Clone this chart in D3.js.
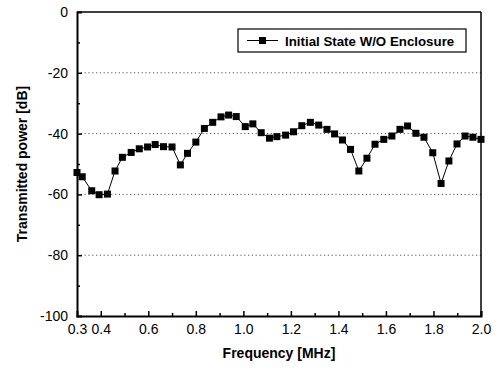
<!DOCTYPE html>
<html>
<head>
<meta charset="utf-8">
<script src="https://cdn.jsdelivr.net/npm/d3@7"></script>
<style>
  body { margin: 0; background: #fff; }
  svg { display: block; font-family: "Liberation Sans", Arial, sans-serif; }
</style>
</head>
<body>
<svg id="chart" width="500" height="370"></svg>
<script>
// data
var freq = [0.30, 0.322, 0.362, 0.393, 0.428, 0.46, 0.491, 0.528, 0.562, 0.597,
            0.629, 0.664, 0.70, 0.735, 0.765, 0.80, 0.836, 0.871, 0.906, 0.938,
            0.97, 1.008, 1.04, 1.075, 1.11, 1.141, 1.178, 1.211, 1.246, 1.282,
            1.317, 1.352, 1.384, 1.417, 1.451, 1.486, 1.52, 1.554, 1.591, 1.625,
            1.659, 1.691, 1.726, 1.76, 1.797, 1.832, 1.865, 1.899, 1.933, 1.966, 2.0];
var power = [-52.8, -54.2, -58.8, -60.1, -59.9, -52.3, -47.8, -46.2, -45, -44.4,
             -43.6, -44.3, -44.4, -50.3, -46.5, -42.8, -38.3, -36.3, -34.5, -33.9,
             -34.4, -37.7, -36.8, -39.7, -41.5, -41, -40.5, -39.4, -37.4, -36.3,
             -37.2, -38.6, -40.1, -42.1, -45.2, -52.3, -48.1, -43.5, -41.9, -40.8,
             -38.6, -37.5, -39.9, -41.2, -46.3, -56.4, -49, -43.4, -40.8, -41.2, -41.9];
var xTicks = [0.3, 0.4, 0.6, 0.8, 1.0, 1.2, 1.4, 1.6, 1.8, 2.0];
var xMinor = [0.5, 0.7, 0.9, 1.1, 1.3, 1.5, 1.7, 1.9];
var yTicks = [0, -20, -40, -60, -80, -100];
var yMinor = [-10, -30, -50, -70, -90];
var gridVals = [-20, -40, -60, -80];
var seriesName = "Initial State W/O Enclosure";

var svg = d3.select("#chart");
var margin = {top: 12, right: 19, bottom: 54, left: 77};
var width = 500 - margin.left - margin.right;
var height = 370 - margin.top - margin.bottom;

var g = svg.append("g")
    .attr("transform", "translate(" + margin.left + "," + margin.top + ")");

var x = d3.scaleLinear().domain([0.3, 2.0]).range([0, width]);
var y = d3.scaleLinear().domain([-100, 0]).range([height, 0]);

// dotted grid
g.selectAll(".grid")
    .data(gridVals)
    .enter().append("line")
    .attr("x1", 0).attr("x2", width)
    .attr("y1", function(d) { return y(d); })
    .attr("y2", function(d) { return y(d); })
    .attr("stroke", "#555")
    .attr("stroke-width", 1)
    .attr("stroke-dasharray", "1.2,2.6");

// frame top / right
g.append("line").attr("x1", 0).attr("x2", width).attr("y1", 0).attr("y2", 0)
    .attr("stroke", "#000").attr("stroke-width", 1.5);
g.append("line").attr("x1", width).attr("x2", width).attr("y1", 0).attr("y2", height)
    .attr("stroke", "#000").attr("stroke-width", 1.5);

// x axis, ticks inward
var xAxis = g.append("g")
    .attr("transform", "translate(0," + height + ")")
    .call(d3.axisBottom(x).tickValues(xTicks).tickSize(-5).tickPadding(8)
        .tickFormat(function(d) { return d.toFixed(1); }));
xAxis.selectAll(".tick").filter(function(d) { return d === 0.3; }).select("line").remove();
xAxis.selectAll("text").attr("fill", "#000").style("font-size", "14px");
xAxis.select(".domain").attr("stroke-width", 2);
xAxis.selectAll(".tick line").attr("stroke-width", 1.5);

g.append("g")
    .attr("transform", "translate(0," + height + ")")
    .call(d3.axisBottom(x).tickValues(xMinor).tickSize(-3).tickFormat(""))
    .call(function(s) { s.select(".domain").remove(); })
    .selectAll("line").attr("stroke-width", 1.5);

// y axis, ticks inward
var yAxis = g.append("g")
    .call(d3.axisLeft(y).tickValues(yTicks).tickSize(-5).tickPadding(9)
        .tickFormat(function(d) { return String(d); }));
yAxis.selectAll(".tick").filter(function(d) { return d === 0 || d === -100; }).select("line").remove();
yAxis.selectAll("text").attr("fill", "#000").style("font-size", "14px");
yAxis.select(".domain").attr("stroke-width", 2);
yAxis.selectAll(".tick line").attr("stroke-width", 1.5);

g.append("g")
    .call(d3.axisLeft(y).tickValues(yMinor).tickSize(-3).tickFormat(""))
    .call(function(s) { s.select(".domain").remove(); })
    .selectAll("line").attr("stroke-width", 1.5);

// series
var pts = freq.map(function(f, i) { return [f, power[i]]; });

g.append("path")
    .datum(pts)
    .attr("fill", "none")
    .attr("stroke", "#000")
    .attr("stroke-width", 1)
    .attr("d", d3.line().x(function(d) { return x(d[0]); }).y(function(d) { return y(d[1]); }));

var ms = 7;
g.selectAll(".pt")
    .data(pts)
    .enter().append("rect")
    .attr("x", function(d) { return x(d[0]) - ms / 2; })
    .attr("y", function(d) { return y(d[1]) - ms / 2; })
    .attr("width", ms)
    .attr("height", ms)
    .attr("fill", "#000");

// legend
var lg = svg.append("g").attr("transform", "translate(238,29)");
lg.append("rect")
    .attr("width", 228).attr("height", 23)
    .attr("fill", "#fff").attr("stroke", "#000").attr("stroke-width", 1.2);
lg.append("line").attr("x1", 9).attr("x2", 40).attr("y1", 11.5).attr("y2", 11.5)
    .attr("stroke", "#000").attr("stroke-width", 1);
lg.append("rect").attr("x", 21).attr("y", 8).attr("width", 7).attr("height", 7).attr("fill", "#000");
lg.append("text")
    .attr("x", 47).attr("y", 16.5)
    .style("font-size", "13.3px").style("font-weight", "bold")
    .text(seriesName);

// axis titles
svg.append("text")
    .attr("x", margin.left + width / 2)
    .attr("y", 358)
    .attr("text-anchor", "middle")
    .style("font-size", "14px").style("font-weight", "bold")
    .text("Frequency [MHz]");

svg.append("text")
    .attr("transform", "translate(27," + (margin.top + height / 2) + ") rotate(-90)")
    .attr("text-anchor", "middle")
    .style("font-size", "14px").style("font-weight", "bold")
    .text("Transmitted power [dB]");
</script>
</body>
</html>
